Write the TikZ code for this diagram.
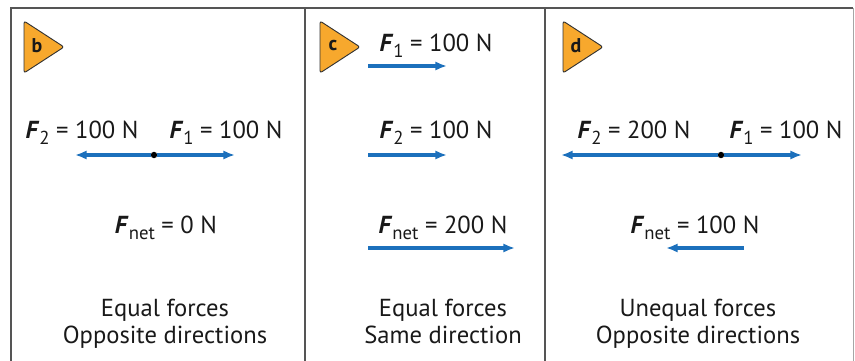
\documentclass[tikz,border=0pt]{standalone}
\usepackage{fontspec}
\setmainfont{PT Sans}
\usetikzlibrary{arrows.meta}
\definecolor{forceblue}{RGB}{28,112,188}
\definecolor{tagorange}{RGB}{247,168,45}
\definecolor{framegray}{RGB}{85,85,85}
\definecolor{inkgray}{RGB}{25,25,25}
\newcommand{\Fsub}[1]{\textbf{\textit{F}}\raisebox{-0.45ex}{\fontsize{16}{16}\selectfont #1}}

\begin{document}
\begin{tikzpicture}[x=0.03cm, y=-0.03cm,
  lbl/.style={font=\fontsize{21}{21}\selectfont, text=inkgray, inner sep=0pt},
  caption/.style={lbl, align=center},
  tagtext/.style={font=\fontsize{17}{17}\selectfont\bfseries, text=inkgray, inner sep=0pt},
  tag/.style={fill=tagorange, draw=black!80, line width=0.8pt, rounded corners=2pt},
  force/.style={-{Latex[length=10pt,width=8pt]}, line width=2.8pt, forceblue},
  pivot/.style={circle, fill=black, inner sep=0pt, minimum size=5.5pt}
]
  \useasboundingbox (0,0) rectangle (855,361);

  % frame and dividers
  \draw[framegray, line width=2.2pt] (10,8) -- (853,8);
  \draw[framegray, line width=2.2pt] (11,8) -- (11,361);
  \draw[framegray, line width=1.6pt] (305,8) -- (305,361);
  \draw[framegray, line width=1.6pt] (545,8) -- (545,361);
  \draw[black!35, line width=0.8pt] (853,8) -- (853,361);

  % panel tags
  \draw[tag] (24,21) -- (64,47) -- (24,73) -- cycle;
  \node[tagtext] (tb) at (37,46) {b};
  \draw[tag] (320,21) -- (360,47) -- (320,73) -- cycle;
  \node[tagtext] (tc) at (333,46) {c};
  \draw[tag] (563,21) -- (603,47) -- (563,73) -- cycle;
  \node[tagtext] (td) at (576,46) {d};

  % panel b: equal forces, opposite directions
  \node[lbl] (bF2) at (82,133) {\Fsub{2} = 100 N};
  \node[lbl] (bF1) at (226,133) {\Fsub{1} = 100 N};
  \node[pivot] (bO) at (154,155) {};
  \coordinate (bL) at (75,155);
  \coordinate (bR) at (235,155);
  \draw[force] (bO) -- (bL);
  \draw[force] (bO) -- (bR);
  \node[lbl] (bnet) at (166,228) {\Fsub{net} = 0 N};
  \node[caption] (bcap) at (165,325) {Equal forces\strut\\Opposite directions\strut};

  % panel c: equal forces, same direction
  \node[lbl] (cF1) at (436,46) {\Fsub{1} = 100 N};
  \coordinate (c1a) at (368,66);
  \coordinate (c1b) at (447,66);
  \draw[force] (c1a) -- (c1b);
  \node[lbl] (cF2) at (436,133) {\Fsub{2} = 100 N};
  \coordinate (c2a) at (368,155);
  \coordinate (c2b) at (447,155);
  \draw[force] (c2a) -- (c2b);
  \node[lbl] (cnet) at (443,228) {\Fsub{net} = 200 N};
  \coordinate (cna) at (368,248);
  \coordinate (cnb) at (515,248);
  \draw[force] (cna) -- (cnb);
  \node[caption] (ccap) at (443,325) {Equal forces\strut\\Same direction\strut};

  % panel d: unequal forces, opposite directions
  \node[lbl] (dF2) at (634,133) {\Fsub{2} = 200 N};
  \node[lbl] (dF1) at (786,133) {\Fsub{1} = 100 N};
  \node[pivot] (dO) at (721,155) {};
  \coordinate (dL) at (561,155);
  \coordinate (dR) at (802,155);
  \draw[force] (dO) -- (dL);
  \draw[force] (dO) -- (dR);
  \node[lbl] (dnet) at (695,228) {\Fsub{net} = 100 N};
  \coordinate (dna) at (744,248);
  \coordinate (dnb) at (666,248);
  \draw[force] (dna) -- (dnb);
  \node[caption] (dcap) at (698,325) {Unequal forces\strut\\Opposite directions\strut};
\end{tikzpicture}
\end{document}
